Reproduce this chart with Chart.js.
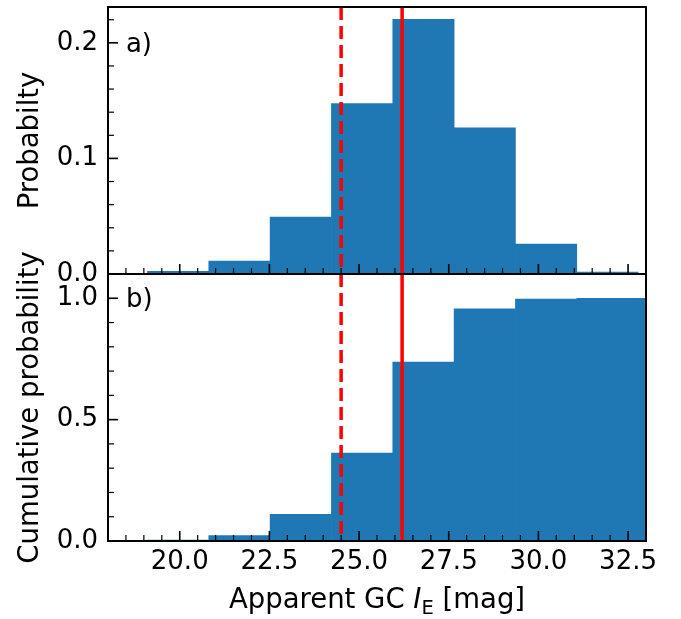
<!DOCTYPE html>
<html>
<head>
<meta charset="utf-8">
<script src="https://cdn.jsdelivr.net/npm/chart.js@4.4.1/dist/chart.umd.min.js"></script>
<style>
  html, body { margin: 0; padding: 0; background: #fff; }
  #fig { position: relative; width: 681px; height: 619px; }
  #fig canvas { position: absolute; left: 0; }
</style>
</head>
<body>
<div id="fig">
  <canvas id="probChart" width="681" height="290" style="top:0"></canvas>
  <canvas id="cumChart" width="681" height="389" style="top:230px"></canvas>
</div>
<script>
// bin edges of the magnitude histogram (the last one only feeds the cumulative panel)
var binEdges = [19.10, 20.81, 22.52, 24.23, 25.94, 27.65, 29.36, 31.07, 32.78, 34.49];
// probability density per bin
var probValues = [0.0023, 0.0112, 0.0493, 0.1475, 0.2204, 0.1265, 0.0259, 0.0017];
// cumulative probability per bin
var cumValues = [0.004, 0.022, 0.110, 0.362, 0.737, 0.956, 0.997, 1.0, 1.0];

var magTicks = [20.0, 22.5, 25.0, 27.5, 30.0, 32.5];
var probTicks = [0.0, 0.1, 0.2];
var cumTicks = [0.0, 0.5, 1.0];

// vertical reference magnitudes
var dashedMag = 24.5;
var solidMag = 26.2;

var magMin = 18, magMax = 33;
var probMax = 0.231, cumMax = 1.1;

Chart.defaults.font.family = '"DejaVu Sans", sans-serif';
Chart.defaults.font.size = 26;
Chart.defaults.color = '#000';

function histPoints(edges, values) {
  var pts = [];
  for (var i = 0; i < values.length; i++) {
    pts.push({ x: (edges[i] + edges[i + 1]) / 2, y: values[i] });
  }
  return pts;
}

// top point first so the dash pattern starts at the top of each panel
function vline(mag, top) {
  return [{ x: mag, y: top }, { x: mag, y: 0 }];
}

function isMajor(v, list) {
  return list.some(function (t) { return Math.abs(t - v) < 1e-6; });
}

// box around the panel, inward ticks on the left and bottom, panel letter
var frameTicks = {
  id: 'frameTicks',
  afterDraw: function (chart, args, opts) {
    var ctx = chart.ctx, a = chart.chartArea;
    var xs = chart.scales.x, ys = chart.scales.y;
    ctx.save();
    ctx.strokeStyle = '#000';

    var n = Math.round((xs.max - xs.min) / opts.xMinor);
    for (var i = 1; i < n; i++) {
      var v = xs.min + i * opts.xMinor;
      var major = isMajor(v, magTicks);
      var px = xs.getPixelForValue(v);
      ctx.lineWidth = major ? 1.6 : 1.2;
      ctx.beginPath();
      ctx.moveTo(px, a.bottom);
      ctx.lineTo(px, a.bottom - (major ? 10 : 6));
      ctx.stroke();
    }

    n = Math.round((ys.max - ys.min) / opts.yMinor);
    for (var j = 1; j <= n; j++) {
      var w = ys.min + j * opts.yMinor;
      if (w >= ys.max - 1e-6) break;
      var majorY = isMajor(w, opts.yTicks);
      var py = ys.getPixelForValue(w);
      ctx.lineWidth = majorY ? 1.6 : 1.2;
      ctx.beginPath();
      ctx.moveTo(a.left, py);
      ctx.lineTo(a.left + (majorY ? 10 : 6), py);
      ctx.stroke();
    }

    ctx.lineWidth = 2;
    ctx.strokeRect(a.left, a.top, a.right - a.left, a.bottom - a.top);

    ctx.fillStyle = '#000';
    ctx.font = '26px "DejaVu Sans"';
    ctx.textBaseline = 'middle';
    ctx.textAlign = 'left';
    ctx.fillText(opts.label, xs.getPixelForValue(opts.labelX), ys.getPixelForValue(opts.labelY) + 2);
    ctx.restore();
  }
};

// x axis title with italic I and subscript E
var magTitle = {
  id: 'magTitle',
  afterDraw: function (chart) {
    var ctx = chart.ctx, a = chart.chartArea;
    var parts = [
      { t: 'Apparent GC ', f: '27.5px "DejaVu Sans"', dy: 0 },
      { t: 'I', f: 'italic 27.5px "DejaVu Sans"', dy: 0 },
      { t: 'E', f: '19.5px "DejaVu Sans"', dy: 6 },
      { t: ' [mag]', f: '27.5px "DejaVu Sans"', dy: 0 }
    ];
    ctx.save();
    var total = 0;
    parts.forEach(function (p) { ctx.font = p.f; p.w = ctx.measureText(p.t).width; total += p.w; });
    var x = (a.left + a.right) / 2 - total / 2;
    var y = a.bottom + 67;
    ctx.fillStyle = '#000';
    ctx.textBaseline = 'alphabetic';
    ctx.textAlign = 'left';
    parts.forEach(function (p) {
      ctx.font = p.f;
      ctx.fillText(p.t, x, y + p.dy);
      x += p.w;
    });
    ctx.restore();
  }
};

function panelConfig(o) {
  return {
    type: 'bar',
    data: {
      datasets: [
        { type: 'line', data: vline(dashedMag, o.yMax), borderColor: '#ff0000', borderWidth: 3.5,
          borderDash: [13, 6], borderCapStyle: 'butt', pointRadius: 0, order: 0 },
        { type: 'line', data: vline(solidMag, o.yMax), borderColor: '#ff0000', borderWidth: 3.5,
          pointRadius: 0, order: 0 },
        { data: histPoints(binEdges, o.values), backgroundColor: '#1f77b4', borderWidth: 0,
          barPercentage: 1, categoryPercentage: 1, order: 1 }
      ]
    },
    options: {
      responsive: false,
      animation: false,
      events: [],
      layout: { padding: { top: o.padTop, right: 35, left: 0, bottom: 0 } },
      plugins: {
        legend: { display: false },
        tooltip: { enabled: false },
        frameTicks: { xMinor: 0.5, yMinor: o.yMinor, yTicks: o.yTicks, label: o.label, labelX: 18.5, labelY: o.labelY }
      },
      scales: {
        x: {
          type: 'linear', min: magMin, max: magMax, offset: false,
          grid: { display: false, drawTicks: false },
          border: { display: false },
          afterBuildTicks: function (s) { s.ticks = magTicks.map(function (v) { return { value: v }; }); },
          ticks: { display: o.showX, padding: 6, maxRotation: 0, autoSkip: false,
                   callback: function (v) { return Number(v).toFixed(1); } },
          afterFit: function (s) { s.height = o.xHeight; s.paddingLeft = 0; s.paddingRight = 0; }
        },
        y: {
          type: 'linear', min: 0, max: o.yMax,
          grid: { display: false, drawTicks: false },
          border: { display: false },
          afterBuildTicks: function (s) { s.ticks = o.yTicks.map(function (v) { return { value: v }; }); },
          ticks: { padding: 10, autoSkip: false, callback: function (v) { return Number(v).toFixed(1); } },
          title: { display: true, text: o.yTitle, font: { size: 27.5 }, padding: { top: 14, bottom: 0 } },
          afterFit: function (s) { s.width = 108; s.paddingTop = 0; s.paddingBottom = 0; }
        }
      }
    },
    plugins: o.plugins
  };
}

new Chart(document.getElementById('probChart'), panelConfig({
  values: probValues, yMax: probMax, yTicks: probTicks, yMinor: 0.02, yTitle: 'Probabilty',
  label: 'a)', labelY: 0.2, showX: false, xHeight: 16, padTop: 7, plugins: [frameTicks]
}));

new Chart(document.getElementById('cumChart'), panelConfig({
  values: cumValues, yMax: cumMax, yTicks: cumTicks, yMinor: 0.1, yTitle: 'Cumulative probability',
  label: 'b)', labelY: 1.0, showX: true, xHeight: 78, padTop: 44, plugins: [frameTicks, magTitle]
}));
</script>
</body>
</html>
